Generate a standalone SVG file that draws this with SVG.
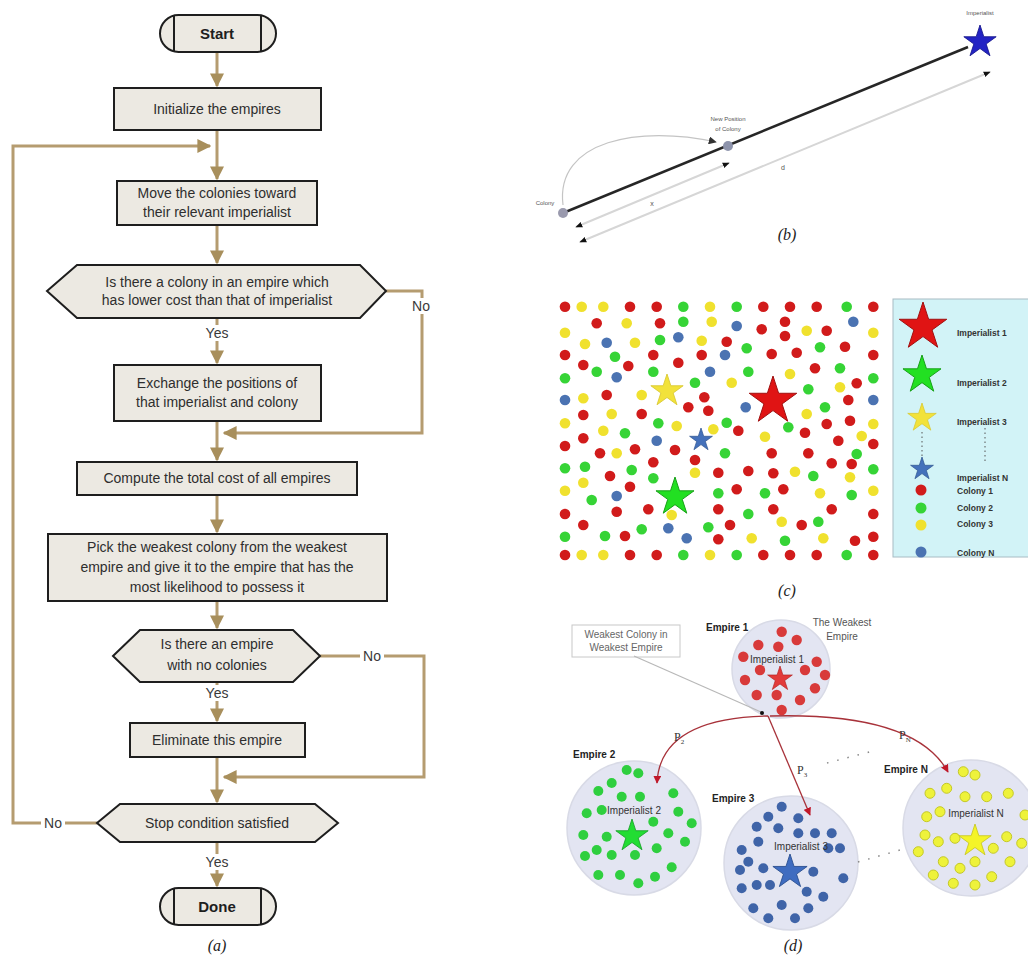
<svg xmlns="http://www.w3.org/2000/svg" xmlns:xlink="http://www.w3.org/1999/xlink" width="1028" height="965" viewBox="0 0 1028 965">
<defs>
<style>
.box{fill:#ece9e2;stroke:#1e1e1e;stroke-width:2}
.tline{stroke:#1e1e1e;stroke-width:2}
.ft{font-family:"Liberation Sans",Arial,sans-serif;font-size:14px;fill:#2e2e2e;text-anchor:middle}
.fb{font-family:"Liberation Sans",Arial,sans-serif;font-size:15px;font-weight:bold;fill:#1e1e1e;text-anchor:middle}
.lab{font-family:"Liberation Sans",Arial,sans-serif;font-size:14px;fill:#3a3a3a;text-anchor:middle}
.cap{font-family:"Liberation Serif","Times New Roman",serif;font-size:16px;font-style:italic;fill:#222;text-anchor:middle}
.conn{fill:none;stroke:#b59c70;stroke-width:3}
.tiny{font-family:"Liberation Sans",Arial,sans-serif;font-size:6px;fill:#555;text-anchor:middle}
.leg{font-family:"Liberation Sans",Arial,sans-serif;font-size:8.5px;font-weight:bold;fill:#333}
.emp{font-family:"Liberation Sans",Arial,sans-serif;font-size:10px;font-weight:bold;fill:#222}
.imp{font-family:"Liberation Sans",Arial,sans-serif;font-size:10px;fill:#333;text-anchor:middle}
.pl{font-family:"Liberation Serif","Times New Roman",serif;font-size:12px;fill:#333}
.r{fill:#d11b1b}
.g{fill:#36d436}
.y{fill:#f0e12e}
.b{fill:#4b73b2}
.er{fill:#d83a3a}
.eg{fill:#2fcf3f}
.eb{fill:#3f64a8}
.ey{fill:#eef23a;stroke:#c4c828;stroke-width:1}
.circ{fill:#e3e5f2;stroke:#d8dae6;stroke-width:1.5}
</style>
<marker id="ah" viewBox="0 0 10 10" refX="9" refY="5" markerUnits="userSpaceOnUse" markerWidth="14" markerHeight="14" orient="auto">
<path d="M0,0 L10,5 L0,10 z" fill="#a88f5c"/>
</marker>
<marker id="rah" viewBox="0 0 10 10" refX="9" refY="5" markerUnits="userSpaceOnUse" markerWidth="8" markerHeight="8" orient="auto">
<path d="M0,0 L10,5 L0,10 z" fill="#c0182a"/>
</marker>
<marker id="bah" viewBox="0 0 10 10" refX="9" refY="5" markerUnits="userSpaceOnUse" markerWidth="7" markerHeight="7" orient="auto">
<path d="M0,1 L10,5 L0,9 z" fill="#111"/>
</marker>
<marker id="bahs" viewBox="0 0 10 10" refX="1" refY="5" markerUnits="userSpaceOnUse" markerWidth="7" markerHeight="7" orient="auto">
<path d="M10,1 L0,5 L10,9 z" fill="#111"/>
</marker>
<marker id="gah" viewBox="0 0 10 10" refX="9" refY="5" markerUnits="userSpaceOnUse" markerWidth="8" markerHeight="8" orient="auto">
<path d="M0,0 L10,5 L0,10 z" fill="#333"/>
</marker>
<polygon id="star" points="0,-1 0.2245,-0.309 0.951,-0.309 0.363,0.118 0.588,0.809 0,0.382 -0.588,0.809 -0.363,0.118 -0.951,-0.309 -0.2245,-0.309"/>
</defs>
<rect width="1028" height="965" fill="#ffffff"/>

<!-- ===== (a) connectors ===== -->
<g id="connectors-a">
<path class="conn" d="M217,52 V86" marker-end="url(#ah)"/>
<path class="conn" d="M217,130 V179" marker-end="url(#ah)"/>
<path class="conn" d="M217,225 V263" marker-end="url(#ah)"/>
<path class="conn" d="M217,318 V363" marker-end="url(#ah)"/>
<path class="conn" d="M386,291 H422 V433 H224" marker-end="url(#ah)"/>
<path class="conn" d="M217,421 V460" marker-end="url(#ah)"/>
<path class="conn" d="M217,495 V532" marker-end="url(#ah)"/>
<path class="conn" d="M217,601 V628" marker-end="url(#ah)"/>
<path class="conn" d="M217,682 V721" marker-end="url(#ah)"/>
<path class="conn" d="M320,656 H424 V777 H224" marker-end="url(#ah)"/>
<path class="conn" d="M217,757 V802" marker-end="url(#ah)"/>
<path class="conn" d="M97,823 H13 V146 H210" marker-end="url(#ah)"/>
<path class="conn" d="M217,842 V886" marker-end="url(#ah)"/>
<rect x="203" y="325" width="28" height="16" fill="#fff"/>
<text class="lab" x="217" y="338">Yes</text>
<rect x="408" y="298" width="28" height="16" fill="#fff"/>
<text class="lab" x="421" y="311">No</text>
<rect x="203" y="685" width="28" height="16" fill="#fff"/>
<text class="lab" x="217" y="698">Yes</text>
<rect x="360" y="648" width="24" height="16" fill="#fff"/>
<text class="lab" x="372" y="661">No</text>
<rect x="41" y="815" width="24" height="16" fill="#fff"/>
<text class="lab" x="53" y="828">No</text>
<rect x="203" y="854" width="28" height="16" fill="#fff"/>
<text class="lab" x="217" y="867">Yes</text>
</g>

<!-- ===== (a) nodes ===== -->
<g id="start">
<rect class="box" x="160" y="15" width="116" height="37" rx="18.5"/>
<line class="tline" x1="174" y1="15" x2="174" y2="52"/>
<line class="tline" x1="261" y1="15" x2="261" y2="52"/>
<text class="fb" x="217" y="39">Start</text>
</g>
<g id="init">
<rect class="box" x="114" y="88" width="207" height="42"/>
<text class="ft" x="217" y="114">Initialize the empires</text>
</g>
<g id="move">
<rect class="box" x="117" y="181" width="200" height="44"/>
<text class="ft" x="217" y="198">Move the colonies toward</text>
<text class="ft" x="217" y="217">their relevant imperialist</text>
</g>
<g id="decision1">
<polygon class="box" points="47,291 77,265 360,265 386,291 360,318 77,318"/>
<text class="ft" x="217" y="287">Is there a colony in an empire which</text>
<text class="ft" x="217" y="305">has lower cost than that of imperialist</text>
</g>
<g id="exchange">
<rect class="box" x="114" y="365" width="207" height="56"/>
<text class="ft" x="217" y="388">Exchange the positions of</text>
<text class="ft" x="217" y="407">that imperialist and colony</text>
</g>
<g id="compute">
<rect class="box" x="77" y="462" width="280" height="33"/>
<text class="ft" x="217" y="483">Compute the total cost of all empires</text>
</g>
<g id="pick">
<rect class="box" x="48" y="534" width="339" height="67"/>
<text class="ft" x="217" y="552">Pick the weakest colony from the weakest</text>
<text class="ft" x="217" y="572">empire and give it to the empire that has the</text>
<text class="ft" x="217" y="592">most likelihood to possess it</text>
</g>
<g id="decision2">
<polygon class="box" points="113,656 140,630 293,630 320,656 293,682 140,682"/>
<text class="ft" x="217" y="649">Is there an empire</text>
<text class="ft" x="217" y="670">with no colonies</text>
</g>
<g id="eliminate">
<rect class="box" x="130" y="723" width="175" height="34"/>
<text class="ft" x="217" y="745">Eliminate this empire</text>
</g>
<g id="decision3">
<polygon class="box" points="97,823 120,804 315,804 338,823 315,842 120,842"/>
<text class="ft" x="217" y="828">Stop condition satisfied</text>
</g>
<g id="done">
<rect class="box" x="160" y="888" width="116" height="37" rx="18.5"/>
<line class="tline" x1="174" y1="888" x2="174" y2="925"/>
<line class="tline" x1="261" y1="888" x2="261" y2="925"/>
<text class="fb" x="217" y="912">Done</text>
</g>
<text class="cap" x="217" y="951">(a)</text>

<!-- ===== (b) ===== -->
<g id="panel-b">
<path d="M563,205 C555,140 640,125 716,142" fill="none" stroke="#c4c4c4" stroke-width="1.2" marker-end="url(#gah)"/>
<line x1="576" y1="227" x2="729" y2="163" stroke="#d6d6d6" stroke-width="2" marker-start="url(#bahs)" marker-end="url(#bah)"/>
<line x1="580" y1="242" x2="990" y2="72" stroke="#d6d6d6" stroke-width="2" marker-start="url(#bahs)" marker-end="url(#bah)"/>
<line x1="563" y1="213" x2="968" y2="47" stroke="#262626" stroke-width="2.5"/>
<circle cx="563" cy="213" r="5" fill="#9a9aae"/>
<circle cx="728" cy="146" r="5" fill="#8e94ac"/>
<use xlink:href="#star" transform="translate(980,42) scale(17)" fill="#2323c4" stroke="#15158a" stroke-width="0.05"/>
<text class="tiny" x="545" y="205">Colony</text>
<text class="tiny" x="728" y="121">New Position</text>
<text class="tiny" x="728" y="131">of Colony</text>
<text class="tiny" x="980" y="15">Imperialist</text>
<text class="tiny" x="652" y="206" style="font-size:7px">x</text>
<text class="tiny" x="783" y="170" style="font-size:7px">d</text>
<text class="cap" x="787" y="240">(b)</text>
</g>

<!-- ===== (c) ===== -->
<g id="panel-c-dots">
<circle class="r" cx="565" cy="306.7" r="5.3"/><circle class="y" cx="581.7" cy="306.7" r="5.3"/><circle class="y" cx="603.3" cy="306.7" r="5.3"/><circle class="r" cx="630" cy="306.7" r="5.3"/><circle class="r" cx="656.7" cy="306.7" r="5.3"/><circle class="g" cx="683.3" cy="306.7" r="5.3"/><circle class="y" cx="710" cy="306.7" r="5.3"/><circle class="g" cx="736.7" cy="306.7" r="5.3"/><circle class="r" cx="763.3" cy="306.7" r="5.3"/><circle class="r" cx="790" cy="306.7" r="5.3"/><circle class="r" cx="816.7" cy="306.7" r="5.3"/><circle class="g" cx="846.7" cy="306.7" r="5.3"/><circle class="r" cx="873.3" cy="306.7" r="5.3"/>
<circle class="r" cx="565" cy="555" r="5.3"/><circle class="y" cx="581.7" cy="555" r="5.3"/><circle class="y" cx="603.3" cy="555" r="5.3"/><circle class="r" cx="630" cy="555" r="5.3"/><circle class="r" cx="656.7" cy="555" r="5.3"/><circle class="g" cx="683.3" cy="555" r="5.3"/><circle class="y" cx="710" cy="555" r="5.3"/><circle class="g" cx="736.7" cy="555" r="5.3"/><circle class="r" cx="763.3" cy="555" r="5.3"/><circle class="r" cx="790" cy="555" r="5.3"/><circle class="r" cx="816.7" cy="555" r="5.3"/><circle class="g" cx="846.7" cy="555" r="5.3"/><circle class="r" cx="873.3" cy="555" r="5.3"/>
<circle class="r" cx="596.7" cy="323.3" r="5.3"/><circle class="y" cx="626.7" cy="323.3" r="5.3"/><circle class="r" cx="660" cy="323.3" r="5.3"/><circle class="g" cx="683.3" cy="321.7" r="5.3"/><circle class="y" cx="711.7" cy="321.7" r="5.3"/><circle class="b" cx="736.7" cy="326" r="5.3"/><circle class="r" cx="761.7" cy="329.3" r="5.3"/><circle class="r" cx="785" cy="321.7" r="5.3"/><circle class="b" cx="853.3" cy="321.7" r="5.3"/>
<circle class="y" cx="565" cy="332.7" r="5.3"/><circle class="r" cx="785" cy="336" r="5.3"/><circle class="y" cx="806.7" cy="330.7" r="5.3"/><circle class="r" cx="826.7" cy="330.7" r="5.3"/><circle class="y" cx="873.3" cy="332.7" r="5.3"/>
<circle class="y" cx="585" cy="344" r="5.3"/><circle class="b" cx="606.7" cy="342.7" r="5.3"/><circle class="y" cx="635" cy="342.7" r="5.3"/><circle class="g" cx="660" cy="340" r="5.3"/><circle class="b" cx="678.3" cy="337.3" r="5.3"/><circle class="y" cx="701.7" cy="340.7" r="5.3"/><circle class="r" cx="726.7" cy="341.7" r="5.3"/><circle class="g" cx="746.7" cy="348.3" r="5.3"/><circle class="g" cx="820" cy="347.3" r="5.3"/><circle class="r" cx="845" cy="346.7" r="5.3"/>
<circle class="r" cx="565" cy="355" r="5.3"/><circle class="g" cx="615" cy="356.7" r="5.3"/><circle class="r" cx="653.3" cy="355" r="5.3"/><circle class="r" cx="701.7" cy="355" r="5.3"/><circle class="b" cx="725" cy="355" r="5.3"/><circle class="r" cx="771.7" cy="354" r="5.3"/><circle class="r" cx="796.7" cy="352.7" r="5.3"/><circle class="r" cx="873.3" cy="355" r="5.3"/>
<circle class="r" cx="583.3" cy="365" r="5.3"/><circle class="r" cx="628.3" cy="366" r="5.3"/><circle class="r" cx="678.3" cy="362.7" r="5.3"/><circle class="r" cx="815" cy="368.3" r="5.3"/><circle class="g" cx="840" cy="368.3" r="5.3"/>
<circle class="g" cx="565" cy="378.3" r="5.3"/><circle class="g" cx="596.7" cy="371.7" r="5.3"/><circle class="b" cx="616.7" cy="377.3" r="5.3"/><circle class="g" cx="653.3" cy="371.7" r="5.3"/><circle class="b" cx="710" cy="371.7" r="5.3"/><circle class="g" cx="748.3" cy="371.7" r="5.3"/><circle class="y" cx="790" cy="374" r="5.3"/>
<circle class="g" cx="695" cy="382.7" r="5.3"/><circle class="y" cx="731.7" cy="382.7" r="5.3"/><circle class="g" cx="808.3" cy="389.3" r="5.3"/><circle class="y" cx="840" cy="387.3" r="5.3"/><circle class="r" cx="856.7" cy="383.3" r="5.3"/><circle class="g" cx="873.3" cy="378.3" r="5.3"/>
<circle class="b" cx="565" cy="400" r="5.3"/><circle class="y" cx="583.3" cy="398.3" r="5.3"/><circle class="r" cx="606.7" cy="395" r="5.3"/><circle class="y" cx="641.7" cy="395" r="5.3"/><circle class="r" cx="704.3" cy="397.3" r="5.3"/><circle class="r" cx="848.3" cy="400" r="5.3"/><circle class="b" cx="873.3" cy="400" r="5.3"/>
<circle class="r" cx="688.3" cy="407.3" r="5.3"/><circle class="r" cx="708.3" cy="410.7" r="5.3"/><circle class="b" cx="745.7" cy="407.3" r="5.3"/><circle class="g" cx="825" cy="407.3" r="5.3"/>
<circle class="r" cx="583.3" cy="415" r="5.3"/><circle class="y" cx="611.7" cy="414" r="5.3"/><circle class="r" cx="641.7" cy="414" r="5.3"/><circle class="y" cx="806.7" cy="414" r="5.3"/><circle class="r" cx="850" cy="420.7" r="5.3"/>
<circle class="y" cx="565" cy="423.3" r="5.3"/><circle class="y" cx="603.3" cy="430.7" r="5.3"/><circle class="g" cx="658.3" cy="423.3" r="5.3"/><circle class="y" cx="676.7" cy="426" r="5.3"/><circle class="y" cx="713.3" cy="429.3" r="5.3"/><circle class="g" cx="726.7" cy="422.7" r="5.3"/><circle class="g" cx="788.3" cy="427.3" r="5.3"/><circle class="r" cx="826.7" cy="424" r="5.3"/><circle class="y" cx="873.3" cy="424" r="5.3"/>
<circle class="r" cx="583.3" cy="438.3" r="5.3"/><circle class="g" cx="625" cy="433.3" r="5.3"/><circle class="b" cx="656.7" cy="440.7" r="5.3"/><circle class="r" cx="738.3" cy="430.7" r="5.3"/><circle class="y" cx="765" cy="436.7" r="5.3"/><circle class="r" cx="805" cy="432.7" r="5.3"/><circle class="y" cx="861.7" cy="436" r="5.3"/>
<circle class="r" cx="565" cy="446" r="5.3"/><circle class="r" cx="600" cy="453.3" r="5.3"/><circle class="y" cx="616.7" cy="453.3" r="5.3"/><circle class="r" cx="635" cy="449.3" r="5.3"/><circle class="r" cx="675" cy="450" r="5.3"/><circle class="g" cx="725" cy="453.3" r="5.3"/><circle class="r" cx="771.7" cy="453.3" r="5.3"/><circle class="r" cx="808.3" cy="453.3" r="5.3"/><circle class="r" cx="838.3" cy="440.7" r="5.3"/><circle class="g" cx="856.7" cy="454" r="5.3"/><circle class="r" cx="873.3" cy="444" r="5.3"/>
<circle class="g" cx="565" cy="468.3" r="5.3"/><circle class="g" cx="585" cy="466.7" r="5.3"/><circle class="r" cx="610" cy="476" r="5.3"/><circle class="g" cx="631.7" cy="470" r="5.3"/><circle class="r" cx="653.3" cy="462.3" r="5.3"/><circle class="r" cx="695" cy="460" r="5.3"/><circle class="y" cx="695" cy="472.7" r="5.3"/><circle class="r" cx="718.3" cy="472.7" r="5.3"/><circle class="r" cx="748.3" cy="471" r="5.3"/><circle class="r" cx="773.3" cy="473.3" r="5.3"/><circle class="y" cx="795" cy="471.7" r="5.3"/><circle class="g" cx="813.3" cy="476" r="5.3"/><circle class="r" cx="831.7" cy="463.3" r="5.3"/><circle class="r" cx="851.7" cy="464" r="5.3"/><circle class="g" cx="873.3" cy="469.3" r="5.3"/>
<circle class="y" cx="565" cy="490.7" r="5.3"/><circle class="y" cx="583.3" cy="482.7" r="5.3"/><circle class="r" cx="630" cy="486.7" r="5.3"/><circle class="g" cx="653.3" cy="478.3" r="5.3"/><circle class="r" cx="736.7" cy="489.3" r="5.3"/><circle class="g" cx="718.3" cy="493.3" r="5.3"/><circle class="g" cx="765" cy="493.3" r="5.3"/><circle class="r" cx="783.3" cy="489.3" r="5.3"/><circle class="y" cx="820" cy="493.3" r="5.3"/><circle class="y" cx="850" cy="477.3" r="5.3"/><circle class="g" cx="851.7" cy="495" r="5.3"/><circle class="y" cx="873.3" cy="490.7" r="5.3"/>
<circle class="g" cx="591.7" cy="500" r="5.3"/><circle class="b" cx="616.7" cy="496" r="5.3"/>
<circle class="r" cx="565" cy="514" r="5.3"/><circle class="r" cx="616.7" cy="511.7" r="5.3"/><circle class="r" cx="648.3" cy="509.3" r="5.3"/><circle class="y" cx="671.7" cy="515" r="5.3"/><circle class="r" cx="718.3" cy="509.3" r="5.3"/><circle class="g" cx="748.3" cy="514" r="5.3"/><circle class="r" cx="773.3" cy="509.3" r="5.3"/><circle class="r" cx="831.7" cy="509.3" r="5.3"/><circle class="r" cx="873.3" cy="514" r="5.3"/>
<circle class="r" cx="583.3" cy="525" r="5.3"/><circle class="g" cx="641.7" cy="529.3" r="5.3"/><circle class="b" cx="668.3" cy="528.3" r="5.3"/><circle class="g" cx="708.3" cy="527.3" r="5.3"/><circle class="r" cx="730" cy="525" r="5.3"/><circle class="y" cx="781.7" cy="521.7" r="5.3"/><circle class="r" cx="801.7" cy="525" r="5.3"/><circle class="g" cx="818.3" cy="521.7" r="5.3"/>
<circle class="g" cx="565" cy="536.7" r="5.3"/><circle class="g" cx="605" cy="536" r="5.3"/><circle class="r" cx="625" cy="536" r="5.3"/><circle class="b" cx="686.7" cy="538.3" r="5.3"/><circle class="r" cx="718.3" cy="539.3" r="5.3"/><circle class="y" cx="751.7" cy="538.3" r="5.3"/><circle class="g" cx="785" cy="540.7" r="5.3"/><circle class="y" cx="823.3" cy="538.3" r="5.3"/><circle class="r" cx="855" cy="540.7" r="5.3"/><circle class="r" cx="873.3" cy="536.7" r="5.3"/>
<use xlink:href="#star" transform="translate(667,391) scale(17)" fill="#f2e23a" stroke="#d8c830" stroke-width="0.05"/>
<use xlink:href="#star" transform="translate(773,401) scale(25)" fill="#e01414" stroke="#a01010" stroke-width="0.04"/>
<use xlink:href="#star" transform="translate(701,440) scale(12)" fill="#4471bb" stroke="#2f558f" stroke-width="0.06"/>
<use xlink:href="#star" transform="translate(675,497) scale(20)" fill="#22e022" stroke="#18a018" stroke-width="0.05"/>
</g>
<g id="panel-c-legend">
<rect x="893" y="299" width="140" height="258" fill="#d2f3f7" stroke="#a8bcc4" stroke-width="1"/>
<use xlink:href="#star" transform="translate(923,327) scale(25)" fill="#e01414" stroke="#a01010" stroke-width="0.04"/>
<use xlink:href="#star" transform="translate(922,375) scale(20)" fill="#22e022" stroke="#18a018" stroke-width="0.05"/>
<use xlink:href="#star" transform="translate(922,418) scale(15)" fill="#f2e23a" stroke="#d8c830" stroke-width="0.05"/>
<use xlink:href="#star" transform="translate(922,469) scale(12)" fill="#4471bb" stroke="#2f558f" stroke-width="0.06"/>
<line x1="922" y1="432" x2="922" y2="457" stroke="#555" stroke-width="1" stroke-dasharray="1.5,3"/>
<line x1="985" y1="428" x2="985" y2="462" stroke="#555" stroke-width="1" stroke-dasharray="1.5,3"/>
<circle class="r" cx="921" cy="490" r="5.5"/>
<circle class="g" cx="921" cy="508" r="5.5"/>
<circle class="y" cx="921" cy="525" r="5.5"/>
<circle class="b" cx="921" cy="552" r="5.5"/>
<text class="leg" x="957" y="336">Imperialist 1</text>
<text class="leg" x="957" y="386">Imperialist 2</text>
<text class="leg" x="957" y="425">Imperialist 3</text>
<text class="leg" x="957" y="481">Imperialist N</text>
<text class="leg" x="957" y="494">Colony 1</text>
<text class="leg" x="957" y="511">Colony 2</text>
<text class="leg" x="957" y="527">Colony 3</text>
<text class="leg" x="957" y="556">Colony N</text>
</g>
<text class="cap" x="787" y="596">(c)</text>

<!-- ===== (d) ===== -->
<g id="empire1">
<circle class="circ" cx="781" cy="669" r="49"/>
<circle class="er" cx="781.7" cy="631.7" r="5.2"/><circle class="er" cx="796.7" cy="640" r="5.2"/><circle class="er" cx="758.3" cy="645" r="5.2"/><circle class="er" cx="778.3" cy="646.7" r="5.2"/><circle class="er" cx="743.3" cy="656.7" r="5.2"/><circle class="er" cx="816.7" cy="661.7" r="5.2"/><circle class="er" cx="760" cy="670" r="5.2"/><circle class="er" cx="805" cy="670" r="5.2"/><circle class="er" cx="825" cy="675" r="5.2"/><circle class="er" cx="745" cy="680" r="5.2"/><circle class="er" cx="815" cy="688.3" r="5.2"/><circle class="er" cx="756.7" cy="695" r="5.2"/><circle class="er" cx="776.7" cy="695" r="5.2"/><circle class="er" cx="800" cy="700" r="5.2"/><circle class="er" cx="781.7" cy="710" r="5.2"/>
<use xlink:href="#star" transform="translate(780,679) scale(13)" fill="#e23a3a" stroke="#b02020" stroke-width="0.05"/>
<text class="imp" x="777" y="663">Imperialist 1</text>
<text class="emp" x="706" y="631">Empire 1</text>
<text class="imp" x="842" y="626" style="fill:#555">The Weakest</text>
<text class="imp" x="842" y="640" style="fill:#555">Empire</text>
</g>
<g id="empire2">
<circle class="circ" cx="634" cy="828" r="67"/>
<circle class="eg" cx="626.7" cy="770" r="5"/><circle class="eg" cx="638.3" cy="773.3" r="5"/><circle class="eg" cx="611.7" cy="783" r="5"/><circle class="eg" cx="598.3" cy="791" r="5"/><circle class="eg" cx="621.7" cy="796.7" r="5"/><circle class="eg" cx="640" cy="796.7" r="5"/><circle class="eg" cx="673.3" cy="793.3" r="5"/><circle class="eg" cx="586.7" cy="813.3" r="5"/><circle class="eg" cx="601.7" cy="810" r="5"/><circle class="eg" cx="678.3" cy="811.7" r="5"/><circle class="eg" cx="691.7" cy="823.3" r="5"/><circle class="eg" cx="653.3" cy="821.7" r="5"/><circle class="eg" cx="583.3" cy="835" r="5"/><circle class="eg" cx="606.7" cy="836.7" r="5"/><circle class="eg" cx="668.3" cy="833.3" r="5"/><circle class="eg" cx="685" cy="841.7" r="5"/><circle class="eg" cx="596.7" cy="850" r="5"/><circle class="eg" cx="611.7" cy="855" r="5"/><circle class="eg" cx="635" cy="855" r="5"/><circle class="eg" cx="656.7" cy="848.3" r="5"/><circle class="eg" cx="585" cy="856" r="5"/><circle class="eg" cx="598.3" cy="875" r="5"/><circle class="eg" cx="620" cy="875" r="5"/><circle class="eg" cx="638.3" cy="883.3" r="5"/><circle class="eg" cx="655" cy="876.7" r="5"/><circle class="eg" cx="671.7" cy="867.3" r="5"/>
<use xlink:href="#star" transform="translate(632,836) scale(17)" fill="#22dd33" stroke="#18a028" stroke-width="0.05"/>
<text class="imp" x="634" y="814">Imperialist 2</text>
<text class="emp" x="573" y="758">Empire 2</text>
</g>
<g id="empire3">
<circle class="circ" cx="791" cy="863" r="67"/>
<circle class="eb" cx="781.7" cy="806.7" r="5"/><circle class="eb" cx="768.3" cy="816.7" r="5"/><circle class="eb" cx="798.3" cy="818.3" r="5"/><circle class="eb" cx="756.7" cy="826.7" r="5"/><circle class="eb" cx="778.3" cy="828.3" r="5"/><circle class="eb" cx="798.3" cy="833.3" r="5"/><circle class="eb" cx="815" cy="833.3" r="5"/><circle class="eb" cx="831.7" cy="833.3" r="5"/><circle class="eb" cx="758.3" cy="841.7" r="5"/><circle class="eb" cx="828.3" cy="848.3" r="5"/><circle class="eb" cx="840" cy="848.3" r="5"/><circle class="eb" cx="741.7" cy="850" r="5"/><circle class="eb" cx="748.3" cy="861.7" r="5"/><circle class="eb" cx="763.3" cy="868.3" r="5"/><circle class="eb" cx="813.3" cy="871.7" r="5"/><circle class="eb" cx="740" cy="870" r="5"/><circle class="eb" cx="756.7" cy="885" r="5"/><circle class="eb" cx="770" cy="885" r="5"/><circle class="eb" cx="806.7" cy="891.7" r="5"/><circle class="eb" cx="823.3" cy="896.7" r="5"/><circle class="eb" cx="741.7" cy="888.3" r="5"/><circle class="eb" cx="843.3" cy="878.3" r="5"/><circle class="eb" cx="753.3" cy="908.3" r="5"/><circle class="eb" cx="781.7" cy="905" r="5"/><circle class="eb" cx="768.3" cy="918.3" r="5"/><circle class="eb" cx="795" cy="918.3" r="5"/><circle class="eb" cx="808.3" cy="908.3" r="5"/>
<use xlink:href="#star" transform="translate(790,872) scale(18)" fill="#3f6cc0" stroke="#2a4f90" stroke-width="0.05"/>
<text class="imp" x="801" y="850">Imperialist 3</text>
<text class="emp" x="712" y="802">Empire 3</text>
</g>
<g id="empireN">
<circle class="circ" cx="971" cy="828" r="68"/>
<circle class="ey" cx="963.3" cy="771.7" r="5"/><circle class="ey" cx="975" cy="775" r="5"/><circle class="ey" cx="930" cy="793.3" r="5"/><circle class="ey" cx="946.7" cy="788.3" r="5"/><circle class="ey" cx="965" cy="796.7" r="5"/><circle class="ey" cx="986.7" cy="796.7" r="5"/><circle class="ey" cx="1008.3" cy="793.3" r="5"/><circle class="ey" cx="926.7" cy="816.7" r="5"/><circle class="ey" cx="940" cy="811.7" r="5"/><circle class="ey" cx="1025" cy="815" r="5"/><circle class="ey" cx="925" cy="835" r="5"/><circle class="ey" cx="938.3" cy="841.7" r="5"/><circle class="ey" cx="955" cy="838.3" r="5"/><circle class="ey" cx="1006.7" cy="836.7" r="5"/><circle class="ey" cx="1021.7" cy="843.3" r="5"/><circle class="ey" cx="918.3" cy="851.7" r="5"/><circle class="ey" cx="943.3" cy="861.7" r="5"/><circle class="ey" cx="960" cy="868.3" r="5"/><circle class="ey" cx="975" cy="861.7" r="5"/><circle class="ey" cx="993.3" cy="848.3" r="5"/><circle class="ey" cx="1010" cy="861.7" r="5"/><circle class="ey" cx="933.3" cy="875" r="5"/><circle class="ey" cx="953.3" cy="883.3" r="5"/><circle class="ey" cx="975" cy="885" r="5"/><circle class="ey" cx="991.7" cy="876.7" r="5"/>
<use xlink:href="#star" transform="translate(975,841) scale(17)" fill="#f4f428" stroke="#c8c820" stroke-width="0.05"/>
<text class="imp" x="976" y="817">Imperialist N</text>
<text class="emp" x="884" y="773">Empire N</text>
</g>
<g id="weakest-colony-label">
<rect x="572" y="625" width="108" height="32" fill="#fff" stroke="#c8c8c8" stroke-width="1"/>
<text class="imp" x="626" y="638" style="fill:#666">Weakest Colony in</text>
<text class="imp" x="626" y="651" style="fill:#666">Weakest Empire</text>
</g>
<g id="connectors-d">
<line x1="634" y1="656" x2="761" y2="712" stroke="#b8b8b8" stroke-width="1.2"/>
<circle cx="762" cy="713" r="2" fill="#111"/>
<path d="M768,716 Q660,718 657,783" fill="none" stroke="#a8323a" stroke-width="1.3" marker-end="url(#rah)"/>
<path d="M770,716 Q915,712 948,772" fill="none" stroke="#a8323a" stroke-width="1.3" marker-end="url(#rah)"/>
<path d="M768,716 L810,815" fill="none" stroke="#a8323a" stroke-width="1.3" marker-end="url(#rah)"/>
<line x1="827" y1="763" x2="877" y2="750" stroke="#888" stroke-width="1.5" stroke-dasharray="1.5,9"/>
<line x1="858" y1="862" x2="900" y2="850" stroke="#888" stroke-width="1.5" stroke-dasharray="1.5,9"/>
<text class="pl" x="674" y="741">P<tspan font-size="7" dy="3">2</tspan></text>
<text class="pl" x="797" y="774">P<tspan font-size="7" dy="3">3</tspan></text>
<text class="pl" x="899" y="739">P<tspan font-size="7" dy="3">N</tspan></text>
</g>
<text class="cap" x="793" y="951">(d)</text>
</svg>
